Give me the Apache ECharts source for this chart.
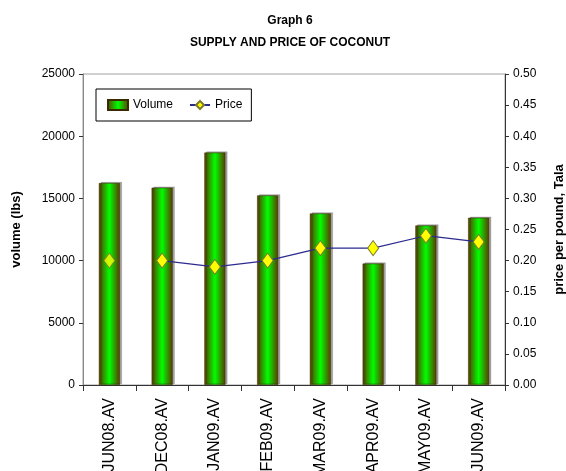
<!DOCTYPE html>
<html>
<head>
<meta charset="utf-8">
<script src="https://cdn.jsdelivr.net/npm/echarts@6/dist/echarts.min.js"></script>
<style>
html,body{margin:0;padding:0;background:#fff;}
#c{width:566px;height:471px;}
</style>
</head>
<body>
<div id="c"></div>
<script>
const categories = ['JUN08.AV','DEC08.AV','JAN09.AV','FEB09.AV','MAR09.AV','APR09.AV','MAY09.AV','JUN09.AV'];
const volume = [16230, 15860, 18680, 15240, 13790, 9760, 12820, 13440];
const price = [0.20, 0.20, 0.19, 0.20, 0.22, 0.22, 0.24, 0.23];

const FONT = '"Liberation Sans", Arial, sans-serif';
const chart = echarts.init(document.getElementById('c'), null, {renderer:'canvas'});

const barGradient = new echarts.graphic.LinearGradient(0,0,1,0,[
  {offset:0, color:'#5a3a00'},
  {offset:0.5, color:'#00ff00'},
  {offset:1, color:'#5a3a00'}
]);

chart.setOption({
  backgroundColor:'#ffffff',
  animation:false,
  title:{
    text:'Graph 6\nSUPPLY AND PRICE OF COCONUT',
    left:285, top:5, textAlign:'center',
    textStyle:{fontFamily:FONT, fontSize:12, fontWeight:'bold', color:'#000', lineHeight:22}
  },
  legend:{
    left:96, top:89,
    orient:'horizontal',
    padding:[10,9,10,11],
    borderColor:'#000', borderWidth:1,
    itemGap:16, itemWidth:20, itemHeight:10,
    textStyle:{fontFamily:FONT, fontSize:12, color:'#000'},
    data:[{name:'Volume', icon:'rect'},{name:'Price'}]
  },
  grid:{left:83, right:61, top:74, bottom:86, show:true, borderColor:'#a0a0a0', borderWidth:1, outerBoundsMode:'none', containLabel:false},
  xAxis:{
    type:'category',
    data:categories,
    axisLine:{lineStyle:{color:'#333'}},
    axisTick:{show:true, alignWithLabel:false, length:6, lineStyle:{color:'#333'}},
    axisLabel:{rotate:90, margin:13, fontFamily:FONT, fontSize:16, color:'#000'}
  },
  yAxis:[{
    type:'value', min:0, max:25000, interval:5000,
    name:'volume (lbs)', nameLocation:'middle', nameGap:60, nameRotate:90,
    nameTextStyle:{fontFamily:FONT, fontSize:13, fontWeight:'bold', color:'#000'},
    axisLine:{show:true, lineStyle:{color:'#888'}},
    axisTick:{show:true, length:4, lineStyle:{color:'#333'}},
    axisLabel:{margin:8, fontFamily:FONT, fontSize:12, color:'#000', formatter:v=>String(v)},
    splitLine:{show:false}
  },{
    type:'value', min:0, max:0.5, interval:0.05,
    name:'price per pound, Tala', nameLocation:'middle', nameGap:48, nameRotate:90,
    nameTextStyle:{fontFamily:FONT, fontSize:13, fontWeight:'bold', color:'#000'},
    axisLine:{show:true, lineStyle:{color:'#333'}},
    axisTick:{show:true, length:4, lineStyle:{color:'#333'}},
    axisLabel:{margin:8, fontFamily:FONT, fontSize:12, color:'#000', formatter:v=>v.toFixed(2)},
    splitLine:{show:false}
  }],
  series:[{
    name:'Volume', type:'bar', data:volume, barWidth:21,
    itemStyle:{color:barGradient, borderColor:'#3a2a00', borderWidth:0.5,
      shadowColor:'rgba(0,0,0,0.35)', shadowOffsetX:2, shadowOffsetY:-1, shadowBlur:0}
  },{
    name:'Price', type:'line', yAxisIndex:1,
    data:price.map((v,i)=> i===0 ? '-' : v),
    symbol:'diamond', symbolSize:[11,15], showAllSymbol:true,
    lineStyle:{color:'#2a2a90', width:1.2},
    itemStyle:{color:'#ffff00', borderColor:'#7a7a30', borderWidth:1},
    z:5
  },{
    name:'Price', type:'scatter', yAxisIndex:1,
    data:price.map((v,i)=> i===0 ? v : '-'),
    symbol:'diamond', symbolSize:[11,15],
    itemStyle:{color:'#ffff00', borderColor:'#7a7a30', borderWidth:1},
    z:5
  }]
});
</script>
</body>
</html>
